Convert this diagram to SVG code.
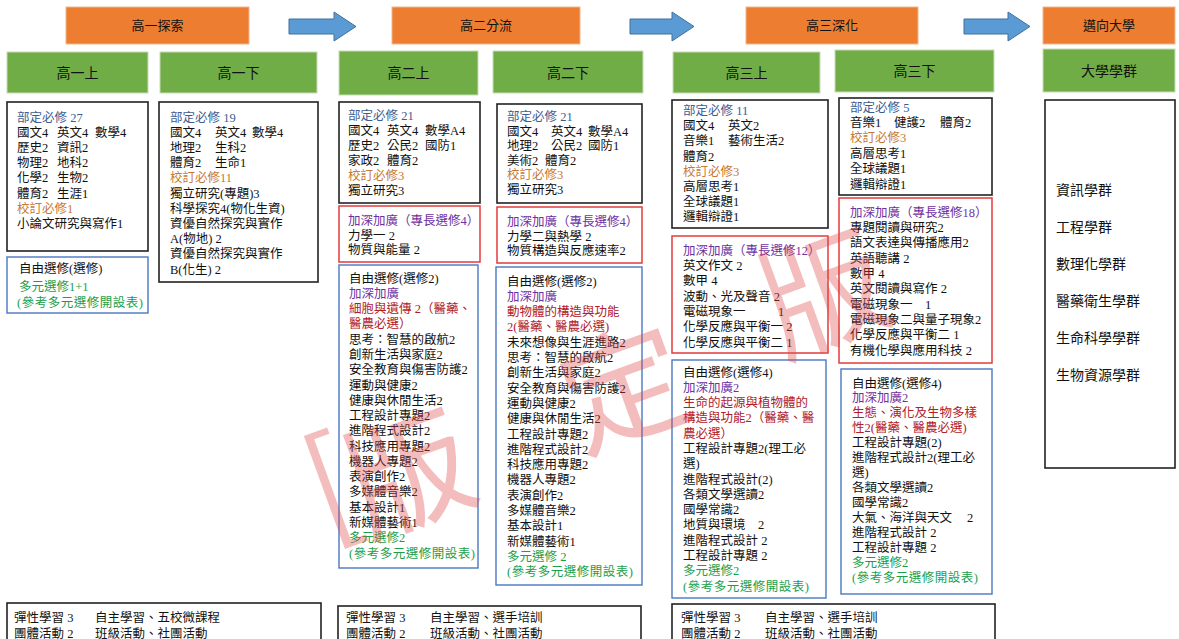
<svg xmlns="http://www.w3.org/2000/svg" width="1179" height="639" viewBox="0 0 1179 639">
<style>
.t{font-family:"Liberation Serif","Noto Sans CJK TC",serif;font-size:12.5px;fill:#111}
.h{font-family:"Noto Sans CJK TC",sans-serif;font-size:13px;fill:#111;text-anchor:middle}
.hg{font-family:"Noto Sans CJK TC",sans-serif;font-size:14px;fill:#111;text-anchor:middle}
.u{font-family:"Noto Sans CJK TC",sans-serif;font-size:14px;fill:#111}
.b{fill:#3d5d91}.o{fill:#c47a35}.p{fill:#7030a0}.r{fill:#b0202a}.g{fill:#1aa04c}
.kb{fill:#fff;stroke:#222;stroke-width:1.6}
.rb{fill:#fff;stroke:#e23b3b;stroke-width:1.5}
.bb{fill:#fff;stroke:#4a78c2;stroke-width:1.4}
.or{fill:#ED7D31;stroke:#f3b58a;stroke-width:1}
.gr{fill:#70AD47;stroke:#c9dcb8;stroke-width:1}
.ar{fill:#5B9BD5;stroke:#41719C;stroke-width:1}
.wm{font-family:"Noto Sans CJK TC",sans-serif;font-size:125px;fill:#e04848;fill-opacity:0.36;text-anchor:middle}
</style>

<g id="stages">
<g id="s1"><rect class="or" x="66" y="7" width="183" height="37"/><text class="h" x="157.5" y="30">高一探索</text></g>
<g id="s2"><rect class="or" x="392" y="7" width="188" height="37"/><text class="h" x="486" y="30">高二分流</text></g>
<g id="s3"><rect class="or" x="746" y="7" width="172" height="37"/><text class="h" x="832" y="30">高三深化</text></g>
<g id="s4"><rect class="or" x="1043" y="7" width="132" height="37"/><text class="h" x="1109" y="30">邁向大學</text></g>
</g>

<g id="connectors">
<path class="ar" d="M289,19 H334 V12 L356,26.5 L334,41 V34 H289 Z"/>
<path class="ar" d="M630,19 H672 V12 L694,26.5 L672,41 V34 H630 Z"/>
<path class="ar" d="M964,19 H1008 V12 L1030,26.5 L1008,41 V34 H964 Z"/>
</g>

<g id="terms">
<g id="g11"><rect class="gr" x="7" y="52" width="141" height="41"/><text class="hg" x="77.5" y="78">高一上</text></g>
<g id="g12"><rect class="gr" x="160" y="52" width="157" height="41"/><text class="hg" x="238.5" y="78">高一下</text></g>
<g id="g21"><rect class="gr" x="339" y="51" width="139" height="44"/><text class="hg" x="408.5" y="78">高二上</text></g>
<g id="g22"><rect class="gr" x="493" y="51" width="150" height="42"/><text class="hg" x="568" y="78">高二下</text></g>
<g id="g31"><rect class="gr" x="673" y="52" width="147" height="41"/><text class="hg" x="746.5" y="78">高三上</text></g>
<g id="g32"><rect class="gr" x="835" y="50" width="159" height="42"/><text class="hg" x="914.5" y="76">高三下</text></g>
<g id="guni"><rect class="gr" x="1043" y="49" width="132" height="43"/><text class="hg" x="1109" y="76">大學學群</text></g>
</g>

<g id="col1">
<rect class="kb" x="7" y="102" width="141" height="149"/>
<text class="t b" x="17" y="121.5">部定必修 27</text>
<text class="t" y="136.7"><tspan x="17">國文4</tspan><tspan x="57">英文4</tspan><tspan x="95">數學4</tspan></text>
<text class="t" y="151.9"><tspan x="17">歷史2</tspan><tspan x="57">資訊2</tspan></text>
<text class="t" y="167.1"><tspan x="17">物理2</tspan><tspan x="57">地科2</tspan></text>
<text class="t" y="182.3"><tspan x="17">化學2</tspan><tspan x="57">生物2</tspan></text>
<text class="t" y="197.5"><tspan x="17">體育2</tspan><tspan x="57">生涯1</tspan></text>
<text class="t o" x="17" y="212.7">校訂必修1</text>
<text class="t" x="17" y="227.9">小論文研究與寫作1</text>
<rect class="bb" x="7" y="257" width="141" height="56"/>
<text class="t" x="19" y="273">自由選修(選修)</text>
<text class="t g" x="19" y="291">多元選修1+1</text>
<text class="t g" x="17" y="307" textLength="126" lengthAdjust="spacing">(參考多元選修開設表)</text>
</g>

<g id="col2">
<rect class="kb" x="159" y="102" width="159" height="180"/>
<text class="t b" x="170" y="121.5">部定必修 19</text>
<text class="t" y="136.7"><tspan x="170">國文4</tspan><tspan x="215">英文4</tspan><tspan x="252">數學4</tspan></text>
<text class="t" y="151.9"><tspan x="170">地理2</tspan><tspan x="215">生科2</tspan></text>
<text class="t" y="167.1"><tspan x="170">體育2</tspan><tspan x="215">生命1</tspan></text>
<text class="t o" x="170" y="182.3">校訂必修11</text>
<text class="t" x="170" y="197.5">獨立研究(專題)3</text>
<text class="t" x="170" y="212.7">科學探究4(物化生資)</text>
<text class="t" x="170" y="227.9">資優自然探究與實作</text>
<text class="t" x="170" y="243.1">A(物地) 2</text>
<text class="t" x="170" y="258.3">資優自然探究與實作</text>
<text class="t" x="170" y="273.5">B(化生) 2</text>
</g>

<g id="col3">
<rect class="kb" x="339" y="102" width="141" height="101"/>
<text class="t b" x="348" y="119.5">部定必修 21</text>
<text class="t" y="134.5"><tspan x="348">國文4</tspan><tspan x="387">英文4</tspan><tspan x="425">數學A4</tspan></text>
<text class="t" y="149.5"><tspan x="348">歷史2</tspan><tspan x="387">公民2</tspan><tspan x="425">國防1</tspan></text>
<text class="t" y="164.5"><tspan x="348">家政2</tspan><tspan x="387">體育2</tspan></text>
<text class="t o" x="348" y="179.5">校訂必修3</text>
<text class="t" x="348" y="194.5">獨立研究3</text>
<rect class="rb" x="339" y="206" width="141" height="56"/>
<text class="t p" x="348" y="224.5">加深加廣（專長選修4）</text>
<text class="t" x="348" y="239.5">力學一 2</text>
<text class="t" x="348" y="253.5">物質與能量 2</text>
<rect class="bb" x="339" y="265" width="139" height="303"/>
<text class="t" x="349" y="282.5">自由選修(選修2)</text>
<text class="t p" x="349" y="297.8">加深加廣</text>
<text class="t r" x="349" y="313.1">細胞與遺傳 2（醫藥、</text>
<text class="t r" x="349" y="328.3">醫農必選）</text>
<text class="t" x="349" y="343.6">思考：智慧的啟航2</text>
<text class="t" x="349" y="358.9">創新生活與家庭2</text>
<text class="t" x="349" y="374.2">安全教育與傷害防護2</text>
<text class="t" x="349" y="389.5">運動與健康2</text>
<text class="t" x="349" y="404.7">健康與休閒生活2</text>
<text class="t" x="349" y="420">工程設計專題2</text>
<text class="t" x="349" y="435.3">進階程式設計2</text>
<text class="t" x="349" y="450.6">科技應用專題2</text>
<text class="t" x="349" y="465.9">機器人專題2</text>
<text class="t" x="349" y="481.1">表演創作2</text>
<text class="t" x="349" y="496.4">多媒體音樂2</text>
<text class="t" x="349" y="511.7">基本設計1</text>
<text class="t" x="349" y="527">新媒體藝術1</text>
<text class="t g" x="349" y="542.3">多元選修2</text>
<text class="t g" x="349" y="557.5" textLength="126" lengthAdjust="spacing">(參考多元選修開設表)</text>
</g>

<g id="col4">
<rect class="kb" x="497" y="104" width="145" height="99"/>
<text class="t b" x="507" y="121">部定必修 21</text>
<text class="t" y="135.5"><tspan x="507">國文4</tspan><tspan x="551">英文4</tspan><tspan x="588">數學A4</tspan></text>
<text class="t" y="150"><tspan x="507">地理2</tspan><tspan x="551">公民2</tspan><tspan x="588">國防1</tspan></text>
<text class="t" y="164.5"><tspan x="507">美術2</tspan><tspan x="545">體育2</tspan></text>
<text class="t o" x="507" y="179">校訂必修3</text>
<text class="t" x="507" y="194">獨立研究3</text>
<rect class="rb" x="497" y="207" width="145" height="56"/>
<text class="t p" x="507" y="226">加深加廣（專長選修4）</text>
<text class="t" x="507" y="240.5">力學二與熱學 2</text>
<text class="t" x="507" y="254.5">物質構造與反應速率2</text>
<rect class="bb" x="496" y="267" width="146" height="318"/>
<text class="t" x="507" y="285.5">自由選修(選修2)</text>
<text class="t p" x="507" y="300.8">加深加廣</text>
<text class="t r" x="507" y="316.1">動物體的構造與功能</text>
<text class="t r" x="507" y="331.4">2(醫藥、醫農必選)</text>
<text class="t" x="507" y="346.7">未來想像與生涯進路2</text>
<text class="t" x="507" y="362">思考：智慧的啟航2</text>
<text class="t" x="507" y="377.3">創新生活與家庭2</text>
<text class="t" x="507" y="392.6">安全教育與傷害防護2</text>
<text class="t" x="507" y="407.9">運動與健康2</text>
<text class="t" x="507" y="423.2">健康與休閒生活2</text>
<text class="t" x="507" y="438.5">工程設計專題2</text>
<text class="t" x="507" y="453.8">進階程式設計2</text>
<text class="t" x="507" y="469.1">科技應用專題2</text>
<text class="t" x="507" y="484.4">機器人專題2</text>
<text class="t" x="507" y="499.7">表演創作2</text>
<text class="t" x="507" y="515">多媒體音樂2</text>
<text class="t" x="507" y="530.3">基本設計1</text>
<text class="t" x="507" y="545.6">新媒體藝術1</text>
<text class="t g" x="507" y="560.9">多元選修 2</text>
<text class="t g" x="507" y="576.2" textLength="126" lengthAdjust="spacing">(參考多元選修開設表)</text>
</g>

<g id="col5">
<rect class="kb" x="672" y="100" width="156" height="128"/>
<text class="t b" x="683" y="115">部定必修 11</text>
<text class="t" y="130.2"><tspan x="683">國文4</tspan><tspan x="728">英文2</tspan></text>
<text class="t" y="145.4"><tspan x="683">音樂1</tspan><tspan x="728">藝術生活2</tspan></text>
<text class="t" x="683" y="160.6">體育2</text>
<text class="t o" x="683" y="175.8">校訂必修3</text>
<text class="t" x="683" y="191">高層思考1</text>
<text class="t" x="683" y="206.2">全球議題1</text>
<text class="t" x="683" y="221.4">邏輯辯證1</text>
<rect class="rb" x="672" y="236" width="156" height="117"/>
<text class="t p" x="683" y="254.5">加深加廣（專長選修12）</text>
<text class="t" x="683" y="269.8">英文作文 2</text>
<text class="t" x="683" y="285.2">數甲 4</text>
<text class="t" x="683" y="300.5">波動、光及聲音 2</text>
<text class="t" y="315.8"><tspan x="683">電磁現象一</tspan><tspan x="778">1</tspan></text>
<text class="t" x="683" y="331.2">化學反應與平衡一 2</text>
<text class="t" x="683" y="346.5">化學反應與平衡二 1</text>
<rect class="bb" x="672" y="360" width="154" height="238"/>
<text class="t" x="683" y="376.5">自由選修(選修4)</text>
<text class="t p" x="683" y="391.8">加深加廣2</text>
<text class="t r" x="683" y="407.1">生命的起源與植物體的</text>
<text class="t r" x="683" y="422.4">構造與功能2（醫藥、醫</text>
<text class="t r" x="683" y="437.7">農必選）</text>
<text class="t" x="683" y="453">工程設計專題2(理工必</text>
<text class="t" x="683" y="468.2">選)</text>
<text class="t" x="683" y="483.5">進階程式設計(2)</text>
<text class="t" x="683" y="498.8">各類文學選讀2</text>
<text class="t" x="683" y="514.1">國學常識2</text>
<text class="t" y="529.4"><tspan x="683">地質與環境</tspan><tspan x="758">2</tspan></text>
<text class="t" x="683" y="544.7">進階程式設計 2</text>
<text class="t" x="683" y="560">工程設計專題 2</text>
<text class="t g" x="683" y="575.3">多元選修2</text>
<text class="t g" x="683" y="590.6" textLength="126" lengthAdjust="spacing">(參考多元選修開設表)</text>
</g>

<g id="col6">
<rect class="kb" x="839" y="98" width="153" height="97"/>
<text class="t b" x="850" y="111.5">部定必修 5</text>
<text class="t" y="126.9"><tspan x="850">音樂1</tspan><tspan x="894">健護2</tspan><tspan x="940">體育2</tspan></text>
<text class="t o" x="850" y="142.3">校訂必修3</text>
<text class="t" x="850" y="157.7">高層思考1</text>
<text class="t" x="850" y="173.1">全球議題1</text>
<text class="t" x="850" y="188.5">邏輯辯證1</text>
<rect class="rb" x="839" y="198" width="153" height="165"/>
<text class="t p" x="850" y="216.5">加深加廣（專長選修18）</text>
<text class="t" x="850" y="231.8">專題閱讀與研究2</text>
<text class="t" x="850" y="247.2">語文表達與傳播應用2</text>
<text class="t" x="850" y="262.5">英語聽講 2</text>
<text class="t" x="850" y="277.8">數甲 4</text>
<text class="t" x="850" y="293.2">英文閱讀與寫作 2</text>
<text class="t" y="308.5"><tspan x="850">電磁現象一</tspan><tspan x="925">1</tspan></text>
<text class="t" x="850" y="323.8">電磁現象二與量子現象2</text>
<text class="t" x="850" y="339.1">化學反應與平衡二 1</text>
<text class="t" x="850" y="354.5">有機化學與應用科技 2</text>
<rect class="bb" x="841" y="369" width="151" height="225"/>
<text class="t" x="852" y="387.5">自由選修(選修4)</text>
<text class="t p" x="852" y="402.4">加深加廣2</text>
<text class="t r" x="852" y="417.3">生態、演化及生物多樣</text>
<text class="t r" x="852" y="432.3">性2(醫藥、醫農必選)</text>
<text class="t" x="852" y="447.2">工程設計專題(2)</text>
<text class="t" x="852" y="462.1">進階程式設計2(理工必</text>
<text class="t" x="852" y="477">選)</text>
<text class="t" x="852" y="491.9">各類文學選讀2</text>
<text class="t" x="852" y="506.9">國學常識2</text>
<text class="t" y="521.8"><tspan x="852">大氣、海洋與天文</tspan><tspan x="967">2</tspan></text>
<text class="t" x="852" y="536.7">進階程式設計 2</text>
<text class="t" x="852" y="551.6">工程設計專題 2</text>
<text class="t g" x="852" y="566.5">多元選修2</text>
<text class="t g" x="852" y="581.5" textLength="126" lengthAdjust="spacing">(參考多元選修開設表)</text>
</g>

<g id="universities">
<rect class="kb" x="1045" y="100" width="130" height="368"/>
<text class="u" x="1056" y="195">資訊學群</text>
<text class="u" x="1056" y="232">工程學群</text>
<text class="u" x="1056" y="269">數理化學群</text>
<text class="u" x="1056" y="306">醫藥衛生學群</text>
<text class="u" x="1056" y="343">生命科學學群</text>
<text class="u" x="1056" y="380">生物資源學群</text>
</g>

<g id="flex1">
<rect class="kb" x="7" y="603" width="314" height="50"/>
<text class="t" y="621.5"><tspan x="14">彈性學習 3</tspan><tspan x="95">自主學習、五校微課程</tspan></text>
<text class="t" y="637.5"><tspan x="14">團體活動 2</tspan><tspan x="95">班級活動、社團活動</tspan></text>
</g>
<g id="flex2">
<rect class="kb" x="338" y="606" width="303" height="50"/>
<text class="t" y="621.5"><tspan x="346">彈性學習 3</tspan><tspan x="430">自主學習、選手培訓</tspan></text>
<text class="t" y="637.5"><tspan x="346">團體活動 2</tspan><tspan x="430">班級活動、社團活動</tspan></text>
</g>
<g id="flex3">
<rect class="kb" x="672" y="604" width="323" height="50"/>
<text class="t" y="621.5"><tspan x="681">彈性學習 3</tspan><tspan x="765">自主學習、選手培訓</tspan></text>
<text class="t" y="637.5"><tspan x="681">團體活動 2</tspan><tspan x="765">班級活動、社團活動</tspan></text>
</g>

<g id="watermark">
<text class="wm" transform="translate(330,485) rotate(-20)" y="44">[</text>
<text class="wm" transform="translate(410,475) rotate(-20)" y="44">版</text>
<text class="wm" transform="translate(625,390) rotate(-20)" y="44">定</text>
<text class="wm" transform="translate(825,295) rotate(-20)" y="44">版</text>
</g>
</svg>
